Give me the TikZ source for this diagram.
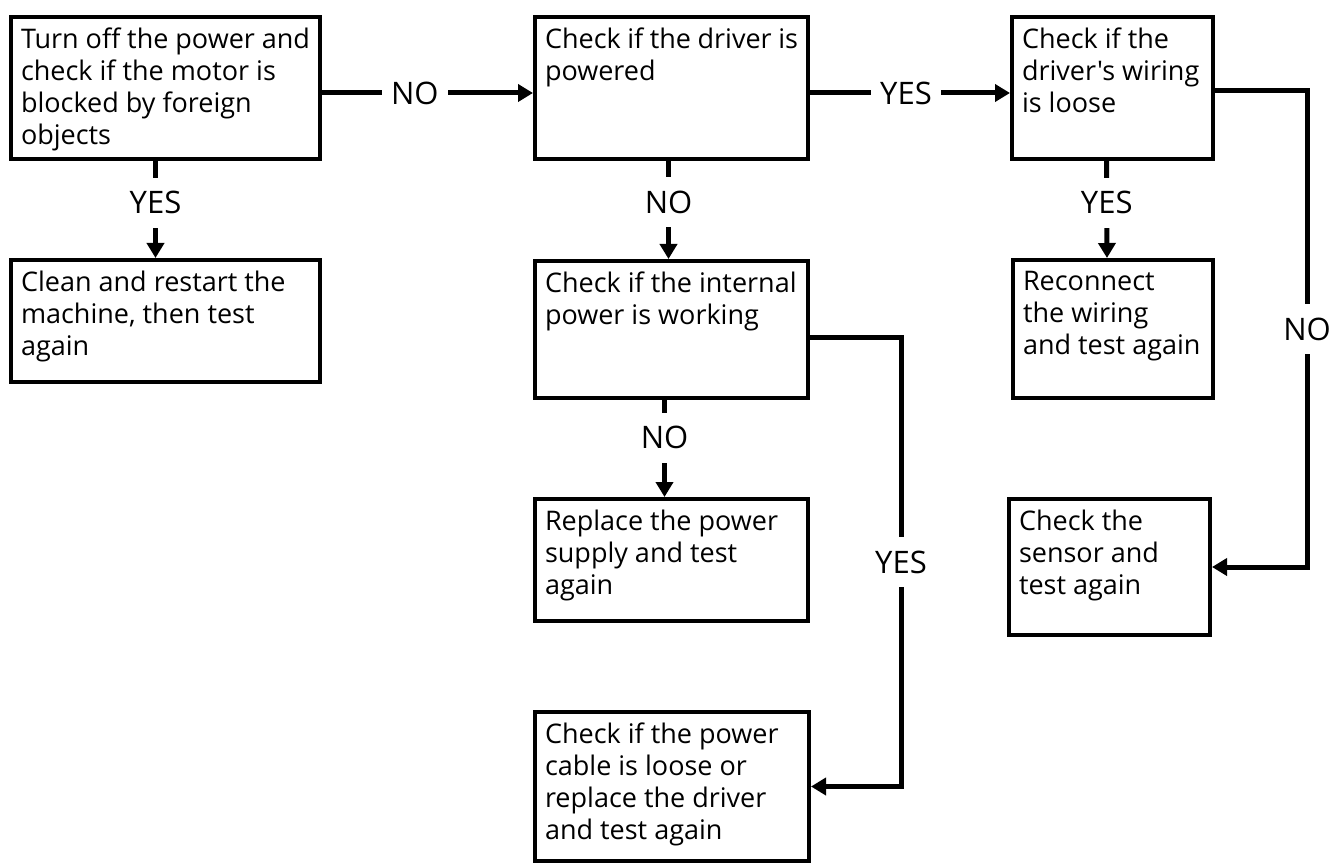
\documentclass[tikz,border=0pt]{standalone}
\usepackage{fontspec}
\setmainfont{Open Sans}[Ligatures=TeXOff]
\usepackage{tikz}
\usetikzlibrary{arrows.meta}

\tikzset{stepbox/.style={draw, line width=4pt, anchor=north west, inner xsep=10pt, inner ysep=11pt},
  conn/.style={line width=5pt, -{Triangle[width=17pt,length=15pt]}},
  lbl/.style={fill=white, inner xsep=9pt, inner ysep=0pt, minimum height=50pt, font=\fontsize{31pt}{36pt}\selectfont}}

\begin{document}
\begin{tikzpicture}[x=1pt, y=-1pt, font=\fontsize{27pt}{32pt}\selectfont]
\useasboundingbox (0,0) rectangle (1335,866);
\node[stepbox] (Motor) at (9,15) {\parbox[c][120pt][t]{289pt}{Turn off the power and\\check if the motor is\\blocked by foreign\\objects}};
\node[stepbox] (Clean) at (9,258) {\parbox[c][100pt][t]{289pt}{Clean and restart the\\machine, then test\\again}};
\node[stepbox] (Driver) at (533,15) {\parbox[c][120pt][t]{253pt}{Check if the driver is\\powered}};
\node[stepbox] (Internal) at (533,259) {\parbox[c][115pt][t]{253pt}{Check if the internal\\power is working}};
\node[stepbox] (Supply) at (533,497) {\parbox[c][100pt][t]{253pt}{Replace the power\\supply and test\\again}};
\node[stepbox] (Cable) at (533,710) {\parbox[c][127pt][t]{254pt}{Check if the power\\cable is loose or\\replace the driver\\and test again}};
\node[stepbox] (Wiring) at (1010,15) {\parbox[c][120pt][t]{181pt}{Check if the\\driver's wiring\\is loose}};
\node[stepbox] (Reconnect) at (1011,258) {\parbox[c][116pt][t]{180pt}{Reconnect\\the wiring\\and test again}};
\node[stepbox] (Sensor) at (1007,497) {\parbox[c][114pt][t]{181pt}{Check the\\sensor and\\test again}};
\draw[conn] ([yshift=-5pt]Motor.east) -- node[lbl, pos=0.44]{NO} ([yshift=-5pt]Driver.west);
\draw[conn] ([yshift=-5pt]Driver.east) -- node[lbl, pos=0.48]{YES} ([yshift=-5pt]Wiring.west);
\draw[conn] ([xshift=-10pt]Motor.south) -- node[lbl, pos=0.43]{YES} ([xshift=-10pt]Clean.north);
\draw[conn] ([xshift=-3pt]Driver.south) -- node[lbl, pos=0.42]{NO} ([xshift=-3pt]Internal.north);
\draw[conn] ([xshift=-7pt]Internal.south) -- node[lbl, pos=0.39]{NO} ([xshift=-7pt]Supply.north);
\draw[conn] ([xshift=-6pt]Wiring.south) -- node[lbl, pos=0.43]{YES} ([xshift=-6pt]Reconnect.north);
\draw[conn] ([yshift=-8pt]Internal.east) -- ++(91,0) |- node[lbl, pos=0.25]{YES} (Cable.east);
\draw[conn] ([yshift=-3pt]Wiring.east) -- ++(92,0) |- node[lbl, pos=0.25]{NO} (Sensor.east);
\end{tikzpicture}
\end{document}
